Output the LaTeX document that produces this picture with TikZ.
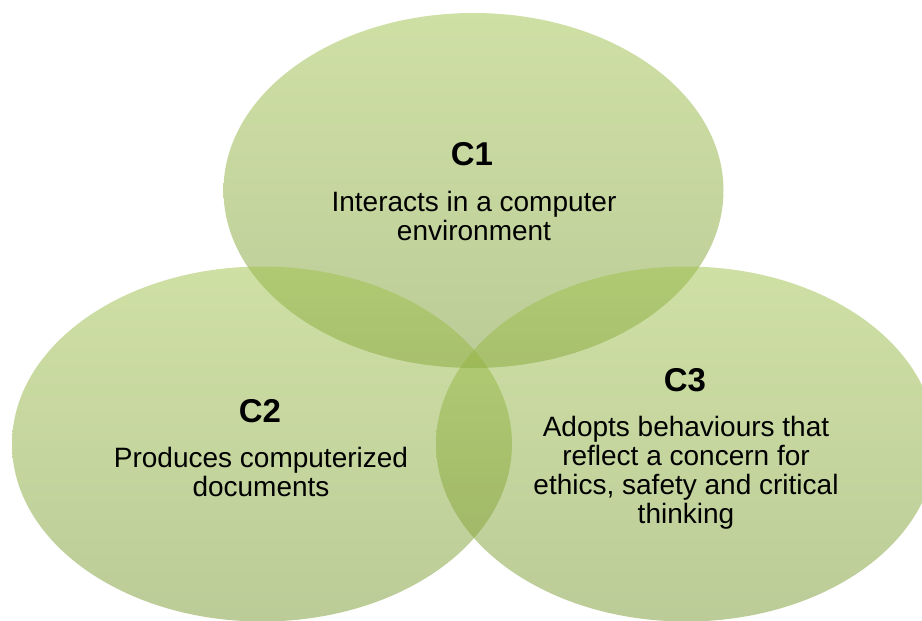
\documentclass[tikz,border=0pt]{standalone}
\usepackage{fontspec}
\setmainfont{Liberation Sans}
\usetikzlibrary{shapes.geometric}
\definecolor{gtop}{RGB}{159,193,75}
\definecolor{gbot}{RGB}{121,153,49}
\tikzset{
  venn/.style={ellipse, draw=none, inner sep=0pt, minimum width=500pt, minimum height=355pt,
    top color=gtop, bottom color=gbot, fill opacity=0.5},
  ttl/.style={anchor=base, font=\fontsize{33}{35}\selectfont\bfseries, text=black, inner sep=0pt},
  body/.style={anchor=base, align=center, font=\fontsize{28}{29}\selectfont, text=black, inner sep=0pt}
}
\begin{document}
\begin{tikzpicture}[x=1pt,y=-1pt]
\useasboundingbox (0,0) rectangle (922,621);
\clip (0,0) rectangle (922,621);
\node[venn] (e1) at (473.5,190.5) {};
\node[venn] (e2) at (262,444) {};
\node[venn] (e3) at (686,444) {};
\node[ttl] (t1) at (472,165) {C1};
\node[body] (b1) at (474,240) {Interacts in a computer\\environment};
\node[ttl] (t2) at (260,422) {C2};
\node[body] (b2) at (261,496) {Produces computerized\\documents};
\node[ttl] (t3) at (685,391) {C3};
\node[body] (b3) at (686,523) {Adopts behaviours that\\reflect a concern for\\ethics, safety and critical\\thinking};
\end{tikzpicture}
\end{document}
